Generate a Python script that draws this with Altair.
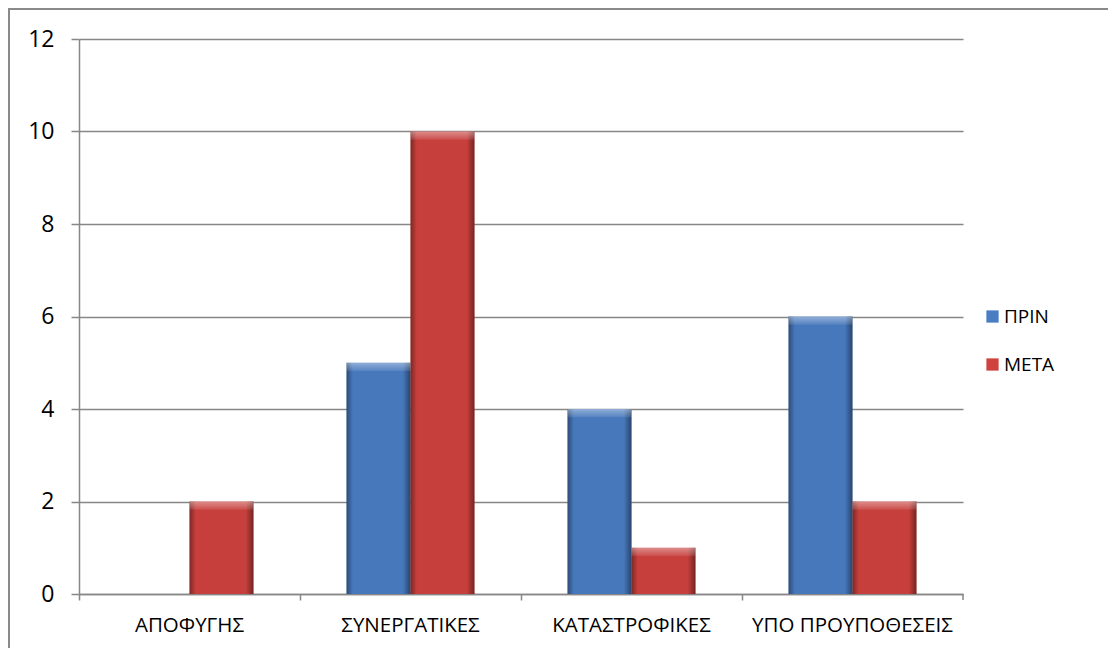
import altair as alt
import pandas as pd

categories = ["ΑΠΟΦΥΓΗΣ", "ΣΥΝΕΡΓΑΤΙΚΕΣ", "ΚΑΤΑΣΤΡΟΦΙΚΕΣ", "ΥΠΟ ΠΡΟΥΠΟΘΕΣΕΙΣ"]
series = ["ΠΡΙΝ", "ΜΕΤΑ"]
prin_values = [0, 5, 4, 6]
meta_values = [2, 10, 1, 2]
series_colors = ["#4a7dc4", "#cf423e"]
y_ticks = [0, 2, 4, 6, 8, 10, 12]

rows = []
for cat, v in zip(categories, prin_values):
    rows.append({"cat": cat, "series": "ΠΡΙΝ", "value": v})
for cat, v in zip(categories, meta_values):
    rows.append({"cat": cat, "series": "ΜΕΤΑ", "value": v})
df = pd.DataFrame(rows)

FONT = "Open Sans"
GRID = "#878787"

x_enc = alt.X(
    "cat:N",
    sort=categories,
    scale=alt.Scale(paddingInner=0, paddingOuter=0),
    axis=alt.Axis(
        title=None,
        labelAngle=0,
        labelFont=FONT,
        labelFontSize=20.5,
        labelColor="#000000",
        labelPadding=15,
        labelLimit=0,
        domainColor=GRID,
        domainWidth=1.5,
        tickColor=GRID,
        tickSize=6,
        tickWidth=1.5,
        bandPosition=0,
        grid=False,
    ),
)
xo_enc = alt.XOffset(
    "series:N",
    sort=series,
    scale=alt.Scale(paddingInner=0, paddingOuter=0.727),
)
y_enc = alt.Y(
    "value:Q",
    scale=alt.Scale(domain=[0, 12], nice=False),
    axis=alt.Axis(
        title=None,
        values=y_ticks,
        labelFont=FONT,
        labelFontSize=23,
        labelColor="#000000",
        labelPadding=17,
        domainColor=GRID,
        domainWidth=1.5,
        tickColor=GRID,
        tickSize=8,
        tickWidth=1.5,
        gridColor=GRID,
        gridWidth=1.5,
    ),
)

base = alt.Chart(df)

bars = base.mark_bar().encode(
    x=x_enc,
    xOffset=xo_enc,
    y=y_enc,
    color=alt.Color(
        "series:N",
        sort=series,
        scale=alt.Scale(domain=series, range=series_colors),
        legend=alt.Legend(
            title=None,
            orient="none",
            legendX=904,
            legendY=268,
            symbolType="square",
            symbolSize=150,
            symbolStrokeWidth=0,
            labelFont=FONT,
            labelFontSize=19,
            labelColor="#000000",
            labelOffset=2,
            rowPadding=28,
        ),
    ),
)

# darker left and right edges of each bar
edge_shade = base.transform_filter("datum.value > 0").mark_bar(
    fill=alt.LinearGradient(
        gradient="linear",
        x1=0, x2=1, y1=0, y2=0,
        stops=[
            alt.GradientStop(offset=0, color="rgba(0,0,0,0.4)"),
            alt.GradientStop(offset=0.1, color="rgba(0,0,0,0.04)"),
            alt.GradientStop(offset=0.88, color="rgba(0,0,0,0.04)"),
            alt.GradientStop(offset=1, color="rgba(0,0,0,0.45)"),
        ],
    )
).encode(x=alt.X("cat:N", sort=categories), xOffset=alt.XOffset("series:N", sort=series), y="value:Q")

# light bevel along the top of each bar
top_bevel = base.transform_filter("datum.value > 0").transform_calculate(
    bevel="datum.value - 0.18"
).mark_bar(
    fill=alt.LinearGradient(
        gradient="linear",
        x1=0, x2=0, y1=0, y2=1,
        stops=[
            alt.GradientStop(offset=0, color="rgba(255,255,255,0.4)"),
            alt.GradientStop(offset=1, color="rgba(255,255,255,0.08)"),
        ],
    )
).encode(
    x=alt.X("cat:N", sort=categories),
    xOffset=alt.XOffset("series:N", sort=series),
    y="value:Q",
    y2="bevel:Q",
)

# closing tick at the right end of the category axis
end_tick = alt.Chart(pd.DataFrame({"v": [0]})).mark_rule(
    color=GRID, strokeWidth=1.5
).encode(x=alt.value(884), y=alt.value(555), y2=alt.value(561))

# outer frame of the chart area
frame = alt.Chart(pd.DataFrame({"v": [0]})).mark_rect(
    fill=None, stroke="#8a8a8a", strokeWidth=2
).encode(x=alt.value(-70), x2=alt.value(1200), y=alt.value(-30), y2=alt.value(700))

chart = alt.layer(frame, bars, edge_shade, top_bevel, end_tick).properties(
    width=884,
    height=555,
    autosize=alt.AutoSizeParams(type="none"),
    padding={"left": 79, "top": 39, "right": 145, "bottom": 54},
    background="#ffffff",
).configure_view(stroke=None)

chart.save("out.html", embed_options={"renderer": "svg", "actions": False})
